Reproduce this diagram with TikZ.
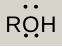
\documentclass[tikz,border=0pt]{standalone}
\usepackage{fontspec}
\setmainfont{Liberation Sans}
\definecolor{bg}{HTML}{D7D4CB}
\begin{document}
\begin{tikzpicture}[x=1pt,y=1pt,
  lp/.style={circle,fill=black,inner sep=0pt,minimum size=4pt}]
\fill[bg] (0,0) rectangle (62,46);
\useasboundingbox (0,0) rectangle (62,46);
\node[anchor=base,inner sep=0pt,font=\fontsize{22.5}{22.5}\selectfont] (roh) at (31,14) {R\kern0.6pt O\kern0.6pt H};
\node[lp] (t1) at (25.5,39.3) {};
\node[lp] (t2) at (36,39.3) {};
\node[lp] (b1) at (26,10.5) {};
\node[lp] (b2) at (36.5,10.5) {};
\end{tikzpicture}
\end{document}
